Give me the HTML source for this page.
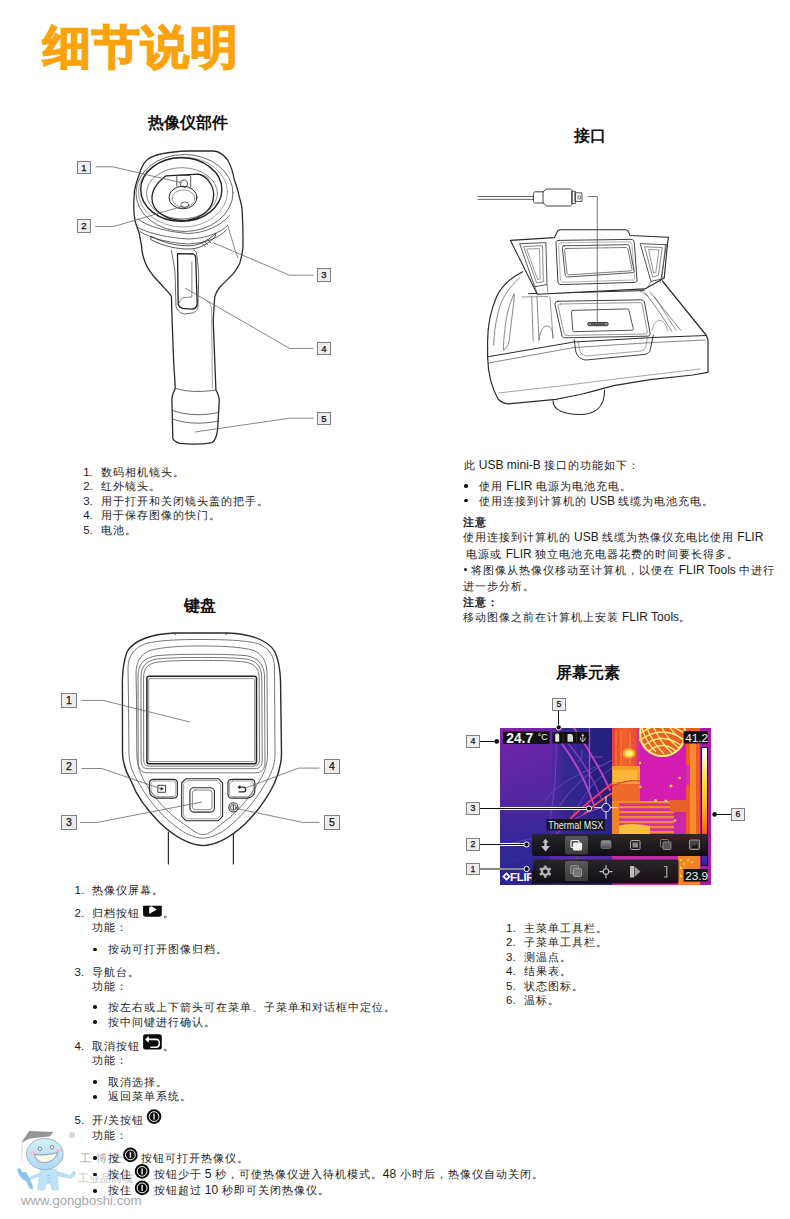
<!DOCTYPE html>
<html><head><meta charset="utf-8">
<style>
html,body{margin:0;padding:0;background:#fff;}
body{width:790px;height:1219px;position:relative;overflow:hidden;font-family:"Liberation Sans",sans-serif;color:#1c1c1c;}
.t{position:absolute;white-space:nowrap;line-height:12px;font-size:11px;letter-spacing:1px;}
.l{font-size:12px;letter-spacing:0;}
.n{font-size:11.5px;letter-spacing:0;}
.h{position:absolute;white-space:nowrap;line-height:16px;font-weight:bold;font-size:16px;color:#111;}
.b{font-weight:bold;}
.dot{position:absolute;width:3.6px;height:3.6px;border-radius:50%;background:#111;}
svg{position:absolute;left:0;top:0;overflow:visible;}
.lb{position:absolute;box-sizing:border-box;border:1px solid #808080;background:#ededed;font-size:10px;text-align:center;color:#111;-webkit-text-stroke:0.25px #111;font-family:"Liberation Sans",sans-serif;}
</style></head><body>
<svg width="790" height="1219" viewBox="0 0 790 1219" style="left:0;top:0">
<defs>
<linearGradient id="wmb" x1="0" y1="0" x2="0" y2="1"><stop offset="0" stop-color="#d2ecf9"/><stop offset="1" stop-color="#a6d6f0"/></linearGradient>
</defs>
<g opacity="0.9">
<!-- body -->
<path d="M40.4 1169 L56.6 1169 L58.6 1189.8 L52 1190 L50.5 1184 L46 1184 L44.5 1190 L37.3 1189.8 Z" fill="#b6def4" stroke="#a8cfe6" stroke-width="0.5"/>
<path d="M41 1172 L30 1177 L29 1180 L42 1176 Z" fill="#b0dcf4"/>
<path d="M56 1171 L70 1175 L74 1170.5 L76 1173 L72 1179 L56 1176 Z" fill="#b0dcf4"/>
<path d="M17 1169 L20 1168 L22 1172 L26 1172 L29 1177 L33 1186 L32.5 1190 L29.5 1188 L26 1181 L22 1179 L18.5 1174 Z" fill="#7fbfe6"/>
<g fill="#8ab8d8"><rect x="47" y="1175" width="3" height="0.8"/><rect x="47" y="1178" width="3" height="0.8"/><rect x="47" y="1181" width="3" height="0.8"/></g>
<!-- head -->
<ellipse cx="44.8" cy="1154" rx="18.3" ry="15.6" fill="url(#wmb)" stroke="#8aa6ba" stroke-width="0.9"/>
<ellipse cx="33" cy="1152.6" rx="3" ry="1.6" fill="#f2b8cf"/>
<ellipse cx="59" cy="1150.4" rx="3" ry="1.6" fill="#f2b8cf"/>
<path d="M34.3 1154.4 C40 1155.5 50 1155 57.6 1152.3 C56 1158.5 50.5 1162.5 44.4 1162.5 C39 1162.5 35.5 1159 34.3 1154.4 Z" fill="#fbf8ec" stroke="#6a7a88" stroke-width="0.8"/>
<circle cx="39.9" cy="1148.8" r="1.7" fill="#fff" stroke="#555" stroke-width="0.8"/>
<circle cx="52" cy="1147.3" r="1.7" fill="#fff" stroke="#555" stroke-width="0.8"/>
<!-- cap -->
<path d="M29.2 1131.1 L53.5 1132.1 L49.5 1136.5 L30 1138.5 L21.1 1142.7 Z" fill="#8a8a8a"/>
<path d="M22.2 1143.2 L21.6 1162.5" stroke="#d8c8cc" stroke-width="0.7"/>
<circle cx="22.2" cy="1150" r="0.8" fill="#ccc"/>
</g>
<circle cx="71.9" cy="1135.2" r="2.6" fill="none" stroke="#b0b0b0" stroke-width="0.6"/><text x="70.4" y="1137.1" font-family="Liberation Sans" font-size="5" fill="#aaa">R</text>
<text x="79.5" y="1161.5" font-family="Liberation Serif" font-size="10.5" fill="#a8a8a8" letter-spacing="5">工博士</text>
<text x="78" y="1181.5" font-family="Liberation Sans" font-size="10.5" fill="#c4c4c4">工业品商城</text>
<text x="21" y="1205.2" font-family="Liberation Sans" font-size="13.4" fill="#a8a8a8" textLength="120.5" lengthAdjust="spacingAndGlyphs">www.gongboshi.com</text>
</svg>
<svg width="790" height="1219" viewBox="0 0 790 1219" style="left:0;top:0">
<defs>
<linearGradient id="tgL" x1="0" y1="0" x2="0.55" y2="1">
<stop offset="0" stop-color="#8a22a8"/><stop offset="0.12" stop-color="#6a24a6"/><stop offset="0.4" stop-color="#5226a2"/><stop offset="0.7" stop-color="#402aa0"/><stop offset="1" stop-color="#342a98"/>
</linearGradient>
<linearGradient id="tgM" x1="0" y1="0" x2="1" y2="0">
<stop offset="0" stop-color="#4a26a4" stop-opacity="0"/><stop offset="0.3" stop-color="#34288e"/><stop offset="1" stop-color="#28208a"/>
</linearGradient>
<linearGradient id="scale" x1="0" y1="0" x2="0" y2="1">
<stop offset="0" stop-color="#ffffff"/><stop offset="0.08" stop-color="#fffbd0"/><stop offset="0.3" stop-color="#ffe020"/><stop offset="0.5" stop-color="#ffb010"/><stop offset="0.7" stop-color="#ff6a10"/><stop offset="0.78" stop-color="#e03060"/><stop offset="0.85" stop-color="#a020a0"/><stop offset="0.93" stop-color="#4030a8"/><stop offset="1" stop-color="#2828a0"/>
</linearGradient>
<radialGradient id="fan" cx="0.5" cy="0.5" r="0.5">
<stop offset="0" stop-color="#f07a20"/><stop offset="0.75" stop-color="#f29a2a"/><stop offset="0.92" stop-color="#f8e060"/><stop offset="1" stop-color="#fff27a"/>
</radialGradient>
<linearGradient id="hotL" x1="0" y1="0" x2="1" y2="0">
<stop offset="0" stop-color="#e83a40"/><stop offset="0.5" stop-color="#f06426"/><stop offset="1" stop-color="#e84848"/>
</linearGradient>
<pattern id="sink" x="0" y="801" width="10" height="5" patternUnits="userSpaceOnUse">
<rect width="10" height="5" fill="#d4329e"/><rect width="10" height="2.2" fill="#f08a30"/>
</pattern>
<linearGradient id="blfade" x1="0" y1="0" x2="0" y2="1"><stop offset="0" stop-color="#2c2694" stop-opacity="0"/><stop offset="0.5" stop-color="#2c2694" stop-opacity="0.7"/><stop offset="1" stop-color="#2a2490" stop-opacity="0.9"/></linearGradient>
<clipPath id="tclip"><rect x="500" y="728" width="211" height="157"/></clipPath>
</defs>
<g clip-path="url(#tclip)">
<rect x="500" y="728" width="211" height="157" fill="url(#tgL)"/>
<!-- middle dark indigo zone -->
<path d="M552 728 L613 728 L613 885 L545 885 L546 830 L552 790 Z" fill="url(#tgM)"/>
<rect x="590" y="728" width="23" height="80" fill="#26207e"/>
<g fill="none" stroke-linecap="round">
<path d="M556 732 Q558 780 548 830" stroke="#7a50d0" stroke-width="0.7"/>
<path d="M562 744 Q582 770 594 805" stroke="#b844c8" stroke-width="2"/>
<path d="M567 742 Q588 766 602 800" stroke="#8c34c0" stroke-width="1.4"/>
<path d="M574 728 Q596 760 610 790" stroke="#c23cb8" stroke-width="2"/>
<path d="M589.5 728 L589.5 790" stroke="#c040c0" stroke-width="1.3"/>
<path d="M590 757 L602 757" stroke="#9a50d0" stroke-width="0.8"/>
<path d="M582 750 L582 758 L578 762" stroke="#8060d0" stroke-width="0.7"/>
<path d="M612 760 Q580 775 560 805" stroke="#7a58d0" stroke-width="0.8"/>
<path d="M612 768 Q585 785 566 830" stroke="#6a50c8" stroke-width="0.8"/>
<path d="M545 800 Q560 780 600 765" stroke="#7050c8" stroke-width="0.7"/>
<path d="M571 818 Q590 800 617 780" stroke="#ff3466" stroke-width="2"/>
<path d="M584 814 Q600 800 617 790" stroke="#ff4a50" stroke-width="1.6"/>
<path d="M555 835 Q575 815 600 808" stroke="#c040c0" stroke-width="1"/>
<path d="M500 865 Q525 857 548 850" stroke="#6848c0" stroke-width="0.8"/>
</g>
<!-- hot zone -->
<rect x="612" y="728" width="90" height="157" fill="#d42ca8"/>
<rect x="612" y="728" width="25" height="42" fill="url(#hotL)"/>
<g stroke="#f8902a" stroke-width="1"><path d="M616 730 L616 768 M621 730 L621 768 M630 732 L630 765"/></g>
<rect x="612" y="766" width="28" height="20" fill="#f49c28"/>
<rect x="613" y="770" width="24" height="12" fill="#fab634"/>
<rect x="612" y="784" width="34" height="18" fill="#ee6a2a"/>
<path d="M612 786 Q628 778 645 782" stroke="#c03060" stroke-width="1" fill="none"/>
<rect x="640" y="744" width="48" height="58" fill="#d41cb0"/>
<ellipse cx="629" cy="753.5" rx="6.5" ry="5" fill="#f0b030"/>
<ellipse cx="629" cy="753.5" rx="4" ry="3" fill="#fff070"/>
<rect x="616" y="801" width="58" height="33" fill="url(#sink)"/>
<path d="M618 826 Q630 822 650 826 L650 834 L618 834 Z" fill="#f8c040"/>
<rect x="612" y="801" width="7" height="34" fill="#f0842a"/>
<rect x="674" y="812" width="12" height="23" fill="#cc26a8"/>
<rect x="670" y="800" width="16" height="12" fill="#e86030"/>
<rect x="686" y="728" width="15" height="157" fill="#ee5c24"/>
<rect x="690" y="736" width="6" height="140" fill="#f58a2c"/>
<rect x="686" y="765" width="4" height="20" fill="#d030a8"/>
<rect x="700" y="728" width="11" height="157" fill="#a61ea8"/>
<!-- fan -->
<circle cx="662.5" cy="733.5" r="22.5" fill="#e8602a"/>
<circle cx="662.5" cy="733.5" r="22.5" fill="none" stroke="#f8f070" stroke-width="2.2"/>
<g fill="none" stroke="#f2f27a" stroke-width="1.3">
<path d="M641 733 Q662 718 684 733"/><path d="M642 739 Q662 725 683 739"/><path d="M644.5 745 Q662 732 680.5 745"/><path d="M649 751 Q662 740 676 751"/>
<path d="M646 726 Q652 742 664 754"/><path d="M653 726 Q660 742 672 753"/><path d="M661 726 Q668 740 679 748"/><path d="M669 726 Q675 736 684 740"/><path d="M642 728 Q646 742 656 752"/>
</g>
<!-- hot spots -->
<g fill="#ffd448">
<circle cx="640" cy="740" r="1.3"/><circle cx="640" cy="763" r="1.3"/><circle cx="671" cy="786" r="1.5"/><circle cx="679.5" cy="778" r="1.3"/><circle cx="655.5" cy="800.5" r="1.5"/><circle cx="666" cy="801" r="1.5"/><circle cx="640.5" cy="787" r="1.2"/><circle cx="675" cy="820.5" r="1.3"/>
</g>
<!-- right side beneath toolbars -->
<rect x="678" y="856" width="22" height="29" fill="#f08426"/>
<g fill="#ffd040"><circle cx="681" cy="860" r="1.2"/><circle cx="684" cy="864" r="1.2"/><circle cx="681" cy="868" r="1.2"/><circle cx="684" cy="872" r="1.2"/><circle cx="681" cy="876" r="1.2"/><circle cx="684" cy="880" r="1.2"/><circle cx="688" cy="860" r="1.2"/><circle cx="692" cy="862" r="1.2"/></g>
<rect x="612" y="856" width="66" height="4" fill="#c02ca8"/>
<rect x="540" y="856" width="72" height="4" fill="#5a2aa8"/>
<!-- bottom-left dark indigo -->
<rect x="500" y="800" width="50" height="85" fill="url(#blfade)"/>
<path d="M500 845 Q520 842 545 835" stroke="#6a50c8" stroke-width="0.7" fill="none"/>
</g>
</svg>
<svg width="790" height="1219" viewBox="0 0 790 1219" style="left:0;top:0">
<defs>
<linearGradient id="tb" x1="0" y1="0" x2="0" y2="1"><stop offset="0" stop-color="#262626"/><stop offset="1" stop-color="#0e0e0e"/></linearGradient>
<linearGradient id="sel" x1="0" y1="0" x2="0" y2="1"><stop offset="0" stop-color="#5a5a5a"/><stop offset="1" stop-color="#3a3a3a"/></linearGradient>
<linearGradient id="gbtn" x1="0" y1="0" x2="0" y2="1"><stop offset="0" stop-color="#9a9a9a"/><stop offset="1" stop-color="#4a4a4a"/></linearGradient>
</defs>
<!-- scale bar -->
<rect x="701" y="747" width="7" height="119" fill="#1a0a20"/>
<rect x="702" y="748" width="5" height="117" fill="url(#scale)"/>
<!-- toolbars -->
<rect x="532" y="834" width="176" height="22" rx="2" fill="url(#tb)" opacity="0.96"/>
<rect x="533" y="859.5" width="145.5" height="24" rx="2" fill="url(#tb)" opacity="0.96"/>
<rect x="565" y="836" width="23" height="18.5" rx="2" fill="url(#sel)"/>
<rect x="565" y="861" width="23" height="20" rx="2" fill="url(#sel)"/>
<path d="M574 859 L577 856 L580 859 Z" fill="#555"/>
<!-- upper toolbar icons -->
<g fill="#c4c4c4">
<path d="M545.5 838.8 L548.6 842.6 L546.7 842.6 L546.7 846 L549.8 846 L545.5 851.6 L541.2 846 L544.3 846 L544.3 842.6 L542.4 842.6 Z"/>
</g>
<g fill="none" stroke="#f2f2f2" stroke-width="1.2">
<rect x="571" y="840.5" width="8" height="7" rx="1"/>
<rect x="573.5" y="843" width="8" height="7" rx="1" fill="#f2f2f2"/>
</g>
<rect x="601" y="840.5" width="10" height="8" rx="1.5" fill="url(#gbtn)" stroke="#777" stroke-width="0.8"/>
<rect x="630.5" y="840.5" width="9.5" height="9" rx="1" fill="none" stroke="#aaa" stroke-width="1"/>
<rect x="632.5" y="842.5" width="5.5" height="5" fill="#888"/>
<rect x="660.5" y="839.5" width="8" height="7.5" rx="1" fill="none" stroke="#777" stroke-width="1"/>
<rect x="663" y="842" width="8" height="7.5" rx="1" fill="#555" stroke="#888" stroke-width="1"/>
<rect x="689.5" y="840" width="10" height="9.5" rx="1" fill="#444" stroke="#999" stroke-width="1"/>
<path d="M691.5 848 L693.5 844.5 L695 846.5 L696.5 843.5 L698 848 Z" fill="#111"/>
<!-- lower toolbar icons -->
<g transform="translate(545.3 871.6)" fill="#b0b0b0">
<circle r="4.6"/>
<g>
<rect x="-1.4" y="-6.2" width="2.8" height="12.4" rx="0.6"/>
<rect x="-1.4" y="-6.2" width="2.8" height="12.4" rx="0.6" transform="rotate(60)"/>
<rect x="-1.4" y="-6.2" width="2.8" height="12.4" rx="0.6" transform="rotate(120)"/>
</g>
<circle r="2.2" fill="#161616"/>
</g>
<rect x="570.5" y="865.5" width="8" height="8" rx="1" fill="#6a6a6a" stroke="#999" stroke-width="0.8"/>
<rect x="573.5" y="868.5" width="8" height="8" rx="1" fill="#777" stroke="#aaa" stroke-width="0.8"/>
<g stroke="#c0c0c0" stroke-width="1.1" fill="none">
<circle cx="606" cy="871.6" r="2.8"/>
<path d="M599.5 871.6 L603.2 871.6 M608.8 871.6 L612.5 871.6 M606 865 L606 868.8 M606 874.4 L606 878.2"/>
</g>
<path d="M630 866 L634 866 L634 877.5 L630 877.5 Z" fill="#bbb"/>
<path d="M634.5 866.5 L640.5 871.6 L634.5 877 Z" fill="#999"/>
<path d="M663.8 866.5 L666.8 866.5 L666.8 877 L663.8 877" fill="none" stroke="#aaa" stroke-width="1.2"/>
<!-- FLIR logo -->
<g fill="#fff">
<path d="M506.5 872.3 L510.7 876.5 L506.5 880.7 L502.3 876.5 Z M506.5 874.7 L504.7 876.5 L506.5 878.3 L508.3 876.5 Z" fill-rule="evenodd"/>
</g>
<text x="510" y="881.3" font-family="Liberation Sans" font-weight="bold" font-size="11.5" fill="#fff" letter-spacing="-0.3">FLIR</text>
<rect x="531.5" y="870" width="3" height="14" fill="#141414"/>
<!-- boxes -->
<rect x="503" y="731.5" width="46.5" height="12.5" fill="#111"/>
<text x="506.2" y="743" font-family="Liberation Sans" font-weight="bold" font-size="14.4" fill="#f4f4f4" textLength="27" lengthAdjust="spacingAndGlyphs">24.7</text>
<text x="537.8" y="740.3" font-family="Liberation Sans" font-size="9.6" fill="#f4f4f4" textLength="10" lengthAdjust="spacingAndGlyphs">°C</text>
<rect x="552.5" y="732" width="36" height="11.5" fill="#111"/>
<rect x="555.2" y="734.2" width="4" height="7.5" fill="#e8e8e8"/><rect x="556.2" y="733.4" width="2" height="1" fill="#e8e8e8"/>
<path d="M567.5 734 L571.5 734 L573 735.5 L573 741.7 L567.5 741.7 Z" fill="#d8d8d8"/>
<line x1="563" y1="733" x2="563" y2="742.5" stroke="#444" stroke-width="0.6"/>
<line x1="576.5" y1="733" x2="576.5" y2="742.5" stroke="#444" stroke-width="0.6"/>
<g stroke="#d8d8d8" stroke-width="0.9" fill="none"><path d="M582.8 733.5 L582.8 742 M580.3 737.5 Q580.5 741 582.8 741.5 Q585.1 741 585.3 737.5 M581.5 735.5 L584.1 735.5"/></g>
<rect x="683.5" y="731.2" width="24.2" height="12.3" fill="#111"/>
<text x="685.2" y="742.3" font-family="Liberation Sans" font-size="11.8" fill="#f0f0f0">41.2</text>
<rect x="683.5" y="869" width="24.2" height="12.6" fill="#111"/>
<text x="685.2" y="880.4" font-family="Liberation Sans" font-size="11.8" fill="#f0f0f0">23.9</text>
<rect x="546.6" y="819" width="58.2" height="11.4" fill="#141414" opacity="0.92"/>
<text x="548.3" y="828.6" font-family="Liberation Sans" font-size="10.6" fill="#eee" textLength="55" lengthAdjust="spacingAndGlyphs">Thermal MSX</text>
<!-- crosshair -->
<g stroke="#ececec" stroke-width="1" fill="none">
<circle cx="606" cy="807.6" r="4.2"/>
<path d="M594 807.6 L601.8 807.6 M610.2 807.6 L618 807.6 M606 796 L606 803.4 M606 811.8 L606 819"/>
</g>
<!-- leader lines -->
<g>
<line x1="479.5" y1="741.5" x2="496.5" y2="741.5" stroke="#111" stroke-width="1"/>
<circle cx="496.8" cy="741.4" r="2.3" fill="#111"/>
<line x1="558.5" y1="710" x2="558.5" y2="727" stroke="#111" stroke-width="1"/>
<circle cx="558.7" cy="727.4" r="2.6" fill="#111" stroke="#fff" stroke-width="1"/>
<line x1="731" y1="814.5" x2="714.6" y2="814.5" stroke="#111" stroke-width="1"/>
<circle cx="714.6" cy="814.4" r="2.3" fill="#111"/>
<line x1="500" y1="808.5" x2="589" y2="808.5" stroke="#fff" stroke-width="3"/>
<line x1="479.5" y1="808.5" x2="589" y2="808.5" stroke="#111" stroke-width="1"/>
<circle cx="589" cy="808.5" r="2.6" fill="#111" stroke="#fff" stroke-width="1"/>
<line x1="500" y1="844.5" x2="526.6" y2="844.5" stroke="#fff" stroke-width="3"/>
<line x1="479.5" y1="844.5" x2="526.6" y2="844.5" stroke="#111" stroke-width="1"/>
<circle cx="526.6" cy="844.5" r="2.6" fill="#111" stroke="#fff" stroke-width="1"/>
<line x1="479.5" y1="869" x2="526.6" y2="869" stroke="#8a8a8a" stroke-width="2"/>
<circle cx="526.6" cy="869" r="2.6" fill="#111" stroke="#fff" stroke-width="1"/>
</g>
</svg>
<svg width="790" height="1219" viewBox="0 0 790 1219" style="left:0;top:0">
<g fill="none" stroke="#2a2a2a" stroke-linejoin="round" stroke-linecap="round">
<!-- neck -->
<path d="M168.4 832 L168.4 864 M233.4 832 L233.4 864" stroke-width="1.2"/>
<!-- outer body -->
<path d="M174.2 633 L226.9 633 C252 634 268 640 275 652 C279 661 280 668 280.5 680 L281.5 754 C281.3 765 279 773 274.5 783 C268 797 258 811 245 824 C230 838 215 845 203.2 845.6 C191 845 176 838 160 823 C148 811 137 797 131 781 C126 772 123 764 122.5 754 L122.4 680 C122.7 668 124 660 127 652 C133 641 150 634 174.2 633 Z" fill="#fff" stroke-width="1.4"/>
<path d="M174.2 633.2 L175.2 634.6 M226.9 633.2 L225.9 634.6" stroke-width="1"/>
<!-- inner lines -->
<path d="M128.5 699 L128 668 C128 656 134 648 146 643.5 C160 640 180 639.5 201 639.5 C222 639.5 244 640 258 643.5 C269 648 274.5 656 274.5 668 L275 754 C275 766 271 774 265 784 C254 803 240 818 226 829 C216 836 209 838 203.2 838.2 C197 838 189 836 179 829 C164 818 150 803 140 785 C133 774 129.5 766 129 754 Z" stroke-width="0.8" stroke="#555"/>
<path d="M136.5 699 L136 674 C136 662 140 655 150 650.5 C165 646.5 183 646 201 646 C220 646 240 646.5 254 650.5 C263 655 267 662 267 674 L267.5 754 C267.5 766 264 774 258 783 C248 800 236 813 224 822 C215 829 209 834.5 203.2 834.7 C197 834.5 191 829 181 822 C168 813 156 800 146 784 C140 774 137 766 136.8 754 Z" stroke-width="0.8" stroke="#555"/>
<!-- screen bezels -->
<path d="M138 700 L138 676 C138 664 144 658 156 655.8 C170 654.4 186 654.3 201.5 654.3 C218 654.3 234 654.4 247 655.8 C258 658 264 664 264.5 676 L265 762 C265 769 262 772.5 256 772.8 L147 772.8 C141 772.5 138.3 769 138.2 762 Z" stroke-width="0.8" stroke="#555"/>
<path d="M141 700 L141 677 C141 666 146 661 157 659 C170 657.6 186 657.5 201.5 657.5 C218 657.5 233 657.6 246 659 C256 661 261.5 666 261.8 677 L262.2 761 C262 766 259.5 768.5 255 768.7 L148 768.7 C143 768.5 141.2 766 141.1 761 Z" stroke-width="0.8" stroke="#555"/>
<path d="M143.6 700 L143.6 678 C143.6 668 148 663.5 158 662 C171 660.5 186 660.4 201.5 660.4 C218 660.4 232 660.5 245 662 C254 663.5 259 668 259.2 678 L259.5 760 C259.3 764 257.5 766 254 766.2 L149 766.2 C145.5 766 143.8 764 143.7 760 Z" stroke-width="0.8" stroke="#555"/>
<!-- screen -->
<rect x="146.9" y="676.3" width="109.6" height="87.5" rx="2.2" stroke-width="1.5" stroke="#222"/>
<rect x="148.7" y="678.6" width="106" height="83" rx="1.2" stroke-width="0.7" stroke="#666"/>
<!-- buttons -->
<path d="M153.5 779.4 L173.5 779.4 C176 779.4 177.4 780.8 177.4 783.4 L177.4 794.2 C177.4 796.8 176 798.1 173.5 798.1 L157 798.1 C153 798.1 149.4 794.5 149.4 790.5 L149.4 783.4 C149.4 780.8 151 779.4 153.5 779.4 Z" stroke-width="1.1"/>
<path d="M154.5 781 L172.8 781 C174.8 781 175.8 782 175.8 784 L175.8 793.8 C175.8 795.8 174.8 796.6 172.8 796.6 L158 796.6 C154.5 796.6 151 793.5 151 790 L151 784 C151 782 152.5 781 154.5 781 Z" stroke-width="0.6" stroke="#666"/>
<rect x="158.2" y="785.3" width="7.4" height="7" stroke-width="0.9"/>
<path d="M160.6 786.9 L163.8 788.8 L160.6 790.7 Z" fill="#222" stroke="none"/>
<path d="M232 779.4 L251 779.4 C253.5 779.4 254.9 780.8 254.9 783.4 L254.9 790.5 C254.9 794.5 251.3 798.1 247.3 798.1 L232 798.1 C229.5 798.1 228 796.8 228 794.2 L228 783.4 C228 780.8 229.5 779.4 232 779.4 Z" stroke-width="1.1"/>
<path d="M232.6 781 L250.5 781 C252.5 781 253.3 782 253.3 784 L253.3 790 C253.3 793.5 250 796.6 246.5 796.6 L232.6 796.6 C230.6 796.6 229.6 795.8 229.6 793.8 L229.6 784 C229.6 782 230.6 781 232.6 781 Z" stroke-width="0.6" stroke="#666"/>
<path d="M238.6 787.2 L243.5 787.2 C246.5 787.2 246.5 791.8 243.5 791.8 L239 791.8" stroke-width="1.3"/>
<path d="M237.6 787.2 L240.3 784.9 L240.3 789.5 Z" fill="#222" stroke="none"/>
<!-- nav -->
<path d="M186 778.7 L218.3 778.7 L222.6 783 L222.6 816.4 L218.3 820.7 L186 820.7 L181.7 816.4 L181.7 783 Z" stroke-width="1.1"/>
<path d="M187.2 780.6 L217.1 780.6 L220.7 784.2 L220.7 815.2 L217.1 818.8 L187.2 818.8 L183.6 815.2 L183.6 784.2 Z" stroke-width="0.6" stroke="#666"/>
<rect x="189.9" y="787.8" width="24.5" height="24.3" rx="4" stroke-width="1.1"/>
<rect x="192.4" y="790.1" width="19.6" height="19.6" rx="3" stroke-width="0.7" stroke="#555"/>
<!-- power -->
<circle cx="233.4" cy="807.4" r="4.6" stroke-width="1.1"/>
<circle cx="233.4" cy="807.4" r="2.9" stroke-width="0.8"/>
<path d="M233.4 805.4 L233.4 809.4" stroke-width="1"/>
</g>
<!-- leader lines -->
<g fill="none" stroke="#666" stroke-width="0.8">
<path d="M81.5 700.4 L103 700.4 L190 722"/>
<path d="M81.5 768.5 L101.8 768.5 L161 788.8"/>
<path d="M80.2 822.5 L96.9 822.5 L202 802"/>
<path d="M319.4 768.1 L298.5 768.1 L246.5 787.6"/>
<path d="M319.4 822.4 L302.7 822.4 L236 808.5"/>
</g>
</svg>
<svg width="790" height="1219" viewBox="0 0 790 1219" style="left:0;top:0">
<g fill="none" stroke="#2a2a2a" stroke-linejoin="round" stroke-linecap="round">
<!-- outer silhouette -->
<path d="M147.5 159.5 C154 154.5 170 151.6 188.3 151 L213.6 151 C218 151.4 224 155 227.8 160.2 C231 166 233 172 234.2 179.4 C236.5 186 238 190 238.9 195.2 C241 203 242 207 242.1 209.5 C243 225 243.2 236 242.9 247.5 C242 256 241 259 239.7 263.3 C237 269 235 272 232.6 274.4 C227 280 223 284 219.9 287 C216.5 291 215.5 294 214.7 297 L213.2 320 L214.1 343.4 L215.9 390 C218 394 219.3 397 219.3 400.3 L217.6 429.7 C216.5 438 214.5 441 212.4 442.6 C202 444.5 190 444.5 179.7 443.4 C175 441.5 173 440 172.8 438.3 L171.9 398.6 C172.5 394 174 391 175.3 388.3 L173.6 360.7 L172.1 320 L171.4 296.2 C168 291.5 166 290 160 283.3 C152 275 147.5 269 145 262 C142 254 141.6 250 141.6 246 C140 238 139.2 233.2 139.2 233.2 C137 227 135.3 222 135.3 222.1 C133.8 214 133.7 210 133.7 206.3 C133.8 198 134.5 193 134.5 190.5 C136 183 137.5 179 139.2 174.6 C141 168 143.5 163 147.5 159.5 Z" fill="#fff" stroke-width="1.3"/>
<!-- rings -->
<ellipse cx="184.5" cy="193" rx="48.5" ry="38.5" stroke-width="0.8" stroke="#444"/>
<ellipse cx="183" cy="192" rx="44.5" ry="35" stroke-width="0.6" stroke="#666"/>
<ellipse cx="181.3" cy="189.6" rx="40.6" ry="31.8" stroke-width="1.4" stroke="#222"/>
<ellipse cx="182" cy="193.3" rx="35.5" ry="25.6" stroke-width="0.7" stroke="#555"/>
<!-- lens window -->
<path d="M166 175.8 L198.5 174.2 C210 178 214 188 213.6 196 C213 208 204 218 186 220.4 C170 221 156 214 152.5 203 C150.5 194 155 184 166 175.8 Z" stroke-width="1.3" stroke="#222"/>
<path d="M198.5 174.2 C204 175 208 177 209 179" stroke-width="0.6"/>
<!-- keyhole + lenses -->
<path d="M176.8 186 L176.8 176.5 C176.8 175.8 177.3 175.4 178 175.4 L189.5 175.4 C190.2 175.4 190.7 175.8 190.7 176.5 L190.7 187.5" stroke-width="0.8"/>
<circle cx="183.8" cy="183.6" r="3.7" stroke-width="0.8"/>
<ellipse cx="183" cy="197.5" rx="14" ry="11.3" stroke-width="1"/>
<ellipse cx="183.5" cy="198.5" rx="11.3" ry="8.6" stroke-width="0.6" stroke="#555"/>
<ellipse cx="184.7" cy="204.8" rx="4" ry="2.8" stroke-width="0.7"/>
<!-- lower barrel arcs -->
<path d="M137.7 219 C150 228 170 232 188.3 233.5 C205 233 220 226 229.4 215.8" stroke-width="0.8" stroke="#444"/>
<path d="M138.4 227.7 C150 234 170 238 188.3 239 C206 238.5 220 233 227.8 225.3" stroke-width="0.8" stroke="#444"/>
<path d="M140 231.6 C152 239 170 243 188.3 244 C206 243 219 238 226.3 230.1" stroke-width="0.8" stroke="#444"/>
<!-- slot -->
<path d="M151.1 236.4 C165 243.5 178 246 190 245.8 C200 245 208 241 216 233.2 L215 237 C208 244 200 248.5 190 249 C178 249.3 164 246.5 151.2 239.8 Z" stroke-width="0.8"/>
<path d="M201 242.5 L205 246.5 M204 241 L208 245 M207 239 L211 243" stroke-width="0.7"/>
<!-- right side panel line -->
<path d="M227.8 225.3 C230 233 232 240 234.2 247.5 L238 258" stroke-width="0.7" stroke="#555"/>
<!-- trigger -->
<path d="M171.4 250.6 C173.5 262 175.2 270 175.2 278 L176 306.8 C178 311.5 181 313.8 185 314 L193.4 312.9 C196 311.5 197.8 309.5 198 306.8 L198.7 278 C198.5 268 197.5 259 196.4 252.9 C195.5 251 194.5 250.3 193.4 249.9" stroke-width="0.8" stroke="#444"/>
<path d="M177.5 253.7 L193.4 254 C194.7 254.5 195.5 255.5 195.7 257.5 L197.2 304.5 C196.5 307.5 194.5 309 191.9 309.1 L182.8 308.3 C180 307.5 178.5 306 178.2 303.8 Z" stroke-width="1.3" stroke="#222"/>
<path d="M191.9 262 L191.9 297 L184 297.5 C181 298.5 179.5 300.5 179.7 303" stroke-width="0.7" stroke="#555"/>
<!-- grip inner lines -->
<path d="M207 300.7 C210 303 211.5 306 211.6 310 L212.4 388" stroke-width="0.6" stroke="#666"/>
<!-- battery bands -->
<path d="M175.3 388.3 C188 392.5 203 392 215.9 390" stroke-width="0.8" stroke="#444"/>
<path d="M172.3 410.5 C188 416 205 415.5 218.8 412.5" stroke-width="0.8" stroke="#444"/>
<path d="M172.4 419 C188 424.5 205 424 218.5 421" stroke-width="0.8" stroke="#444"/>
</g>
<!-- leader lines -->
<g fill="none" stroke="#666" stroke-width="0.8">
<path d="M95.7 166.8 L112.5 166.8 L182.5 183"/>
<path d="M95.2 226.6 L113.4 226.6 L183.5 206"/>
<path d="M313.4 275.2 L289.5 275.2 L212.4 242.4"/>
<path d="M313.4 348.4 L289.5 348.4 L185 288"/>
<path d="M313.4 418.2 L289.5 418.2 L195 432"/>
</g>
</svg>
<svg width="790" height="1219" viewBox="0 0 790 1219" style="left:0;top:0">
<g fill="none" stroke="#2a2a2a" stroke-linejoin="round" stroke-linecap="round">
<!-- cable -->
<path d="M478 196.5 L533.4 196.5 M478 199.4 L533.4 199.4" stroke-width="0.8" stroke="#444"/>
<path d="M543.3 191.8 L535.5 191.8 C534 191.8 533.4 192.8 533.4 194.3 L533.4 200.8 C533.4 202.3 534 203 535.5 203 L543.3 203" stroke-width="0.9"/>
<path d="M543.3 191.8 L546 189.3 C546.5 189 547 189 547.5 189 L569.6 189 C571.2 189 572.1 190 572.1 191.6 L572.1 203.4 C572.1 205 571.2 206 569.6 206 L547.5 206 C547 206 546.5 205.8 546 205.5 L543.3 203 Z" stroke-width="0.9"/>
<rect x="572.1" y="191.2" width="3.3" height="12.3" stroke-width="0.8"/>
<rect x="575.4" y="192.8" width="6.6" height="8.6" stroke-width="0.8"/>
<rect x="578.3" y="196" width="2.3" height="2.9" stroke-width="0.6"/>
<!-- body -->
<path d="M522.6 271.7 C510 278 501 287 496.5 297 C490 312 487.6 328 487.6 341.6 L487.6 356.8 C488 372 491 387 498.2 399.3 C501 402 504 403.5 508 403.8 L556 399.3 L580.3 394.7 L613.7 385.6 L650.2 379.6 L692.8 375 L708 372.3 L708 340 L706.4 335.5 L662.4 281" fill="#fff" stroke-width="1.2"/>
<!-- foot -->
<path d="M553 400.8 C553 410 564 414.5 579 414.5 C594 414.5 604.6 409 604.6 390" fill="#fff" stroke-width="1.1"/>
<!-- front face lines -->
<path d="M487.6 356.8 L574 342 L653 337.5 L706.4 335.5" stroke-width="1"/>
<path d="M489.1 362.9 L574 347.5 L653 342.5 L705 340" stroke-width="0.7" stroke="#555"/>
<path d="M498.5 393 L560 386 L620 378.5 L700 369" stroke-width="0.6" stroke="#666"/>
<!-- left side panel lines -->
<path d="M519.5 278 C508 288 501 300 498.2 312 C495 325 494 335 493.7 345" stroke-width="0.7" stroke="#555"/>
<path d="M514 294 C509 305 506 317 505 328.6 C504 337 503.5 343 503.3 350 C506 349 508 346 509 342 L514 300 C514.5 296.5 514.5 295 514 294 Z" stroke-width="0.7" stroke="#555"/>
<!-- cavity -->
<path d="M528.6 293.7 L644.1 290.6" stroke-width="1"/>
<path d="M531.7 296.7 L533.2 340.8 M537 297 L539 340" stroke-width="0.7" stroke="#555"/>
<path d="M539 340 C540 330 544 325 548 326 C552 327 553 333 553 338" stroke-width="0.7" stroke="#555"/>
<path d="M558 301.3 L640.5 299.8 C643 299.8 644.3 301 644.6 303 L650.2 333.5 C650.4 335.5 649 336.2 647 336.2 L565 337.8 C563 337.8 562 336.8 561.8 335 L555 304.5 C554.8 302.5 556 301.3 558 301.3 Z" stroke-width="0.9"/>
<path d="M573 310.4 L627 308.9 C628 308.9 628.7 309.3 628.9 310.2 L633.3 328.8 C633.5 329.7 633 330.2 632 330.2 L574.5 331.7 C573.5 331.7 572.9 331.2 572.8 330.3 L571.4 311.8 C571.3 310.9 572 310.4 573 310.4 Z" stroke-width="0.8"/>
<path d="M589 322.5 L606.8 322.5 C608.5 322.5 608.8 325.7 606.8 325.7 L589 325.7 C587 325.7 587.3 322.5 589 322.5 Z" fill="#888" stroke-width="0.9"/>
<path d="M591 323.6 L604.8 323.6 L604.8 324.6 L591 324.6 Z" fill="#333" stroke="none"/>
<!-- right side inner -->
<path d="M650.2 292.2 L666 312 L680.6 330.2 M645 292.5 L660 313 L672 331.5" stroke-width="0.7" stroke="#555"/>
<path d="M652 330 C654 322 658 319 662 321 C665 323 667 327 668 331" stroke-width="0.6" stroke="#666"/>
<!-- flap -->
<path d="M574.2 339.8 L575.5 350 C576.5 356 580 359.5 586 360 L644 354.5 C648 354 650 352 650.2 349.9 L653.3 335" stroke-width="0.9"/>
<path d="M578.5 341.5 L579.3 349 C580 353 582.5 355.5 587 356 L641 351 C644 350.5 645.5 349 645.8 347 L647.5 337" stroke-width="0.6" stroke="#666"/>
<!-- lid -->
<path d="M510.4 240.4 L554.5 237.6 L557.7 230.8 C558.5 230 559.5 229.8 561 229.8 L625.5 229.7 C627.5 229.7 629 231 629.8 235.5 L668.5 237.2 L667.5 243.7 L664.2 278.1 L644.9 288.9 L537.3 294.2 Z" fill="#fff" stroke-width="1.1"/>
<path d="M520.1 243.7 L545.9 242.6 L547 284.6 L535.1 286.7 Z" stroke-width="0.8"/>
<path d="M524 246.5 L542.5 245.7 L543.3 281.7 L537 282.8 Z" stroke-width="0.7" stroke="#555"/>
<path d="M640.6 243.7 L666.4 244.7 L661 279.2 L651.3 281.3 Z" stroke-width="0.8"/>
<path d="M645 246.8 L662.3 247.5 L658.3 275.5 L653 276.7 Z" stroke-width="0.7" stroke="#555"/>
<path d="M559 240.4 L631 239.4 C633 239.4 634 240.5 634.3 242.5 L637 280 C637 281.5 636 282.4 634.5 282.4 L561 284.6 C559 284.6 558 283.5 557.9 281.5 L556 243 C556 241 557 240.4 559 240.4 Z" stroke-width="0.9"/>
<path d="M564 245.8 L627 244.7 C628.5 244.7 629.2 245.5 629.5 247 L634 270.5 C634.3 272 633.5 272.7 632 272.7 L567.5 277 C566 277 565.3 276.2 565.2 275 L562.3 247.5 C562.2 246.5 563 245.8 564 245.8 Z" stroke-width="0.8"/>

<!-- extra lid details -->
<path d="M566 248.5 L625.5 247.5 C627 247.5 627.7 248.2 628 249.7 L632 269 C632.2 270.3 631.5 270.8 630.2 270.9 L569 274.8 C567.8 274.9 567.2 274.3 567.1 273.2 L564.5 250.3 C564.4 249.2 565 248.5 566 248.5 Z" fill="none" stroke="#444" stroke-width="0.7"/>
<path d="M561.5 242.8 L629 241.8 C630.8 241.8 631.6 242.7 631.9 244.5 L634.6 278 C634.7 279.3 634 280 632.6 280 L563 282.2 C561.5 282.2 560.6 281.4 560.5 279.8 L558.6 245 C558.5 243.6 559.8 242.8 561.5 242.8 Z" fill="none" stroke="#666" stroke-width="0.5"/>
<path d="M527 249 L539.5 248.6 L540.2 279 L538 279.4 Z" fill="none" stroke="#555" stroke-width="0.6"/>
<path d="M649 249.5 L659 250 L655.8 272.5 L654 273 Z" fill="none" stroke="#555" stroke-width="0.6"/>
<path d="M535.1 286.7 L537.3 294.2 M547 284.6 L548 292" fill="none" stroke="#444" stroke-width="0.6"/>
<path d="M651.3 281.3 L647 288 M661 279.2 L660 283" fill="none" stroke="#444" stroke-width="0.6"/>
<path d="M667.5 243.7 L665.5 244.5 L662 278 L664.2 278.1" fill="none" stroke="#444" stroke-width="0.6"/>
<!-- extra cavity details -->
<path d="M560.5 304 L639 302.6 C641 302.6 642 303.5 642.3 305 L647.3 332 C647.5 333.3 646.7 334 645.3 334 L566.5 335.4 C565 335.4 564.3 334.6 564.1 333.3 L558 306.2 C557.8 304.9 558.8 304 560.5 304 Z" fill="none" stroke="#555" stroke-width="0.6"/>
<path d="M522 297 L548 296.5 M550 297 L553 338" fill="none" stroke="#555" stroke-width="0.6"/>
<path d="M655 297 L676 330.5 M640 291 L648 296" fill="none" stroke="#555" stroke-width="0.6"/>
</g>
<!-- leader -->
<path d="M587.7 196.5 L597.3 196.5 L597.3 324" fill="none" stroke="#555" stroke-width="0.8"/>
</svg>
<svg width="790" height="1219" viewBox="0 0 790 1219" style="left:0;top:0">
<defs>
<g id="pw">
<circle r="7.3" fill="#0a0a0a"/>
<circle r="4.9" fill="none" stroke="#fff" stroke-width="1"/>
<rect x="-0.75" y="-3" width="1.5" height="6" fill="#ddd"/>
</g>
</defs>
<use href="#pw" x="154.05" y="1116.6"/>
<use href="#pw" x="130.4" y="1154.9"/>
<use href="#pw" x="142.1" y="1171.4"/>
<use href="#pw" x="142.1" y="1187.9"/>
<!-- archive -->
<path d="M143.1 905.8 L161.8 905.8 L161.8 914.3 C161.8 915.8 160.8 916.7 159.3 916.7 L145.6 916.7 C144.1 916.7 143.1 915.8 143.1 914.3 Z" fill="#0a0a0a"/>
<path d="M149.2 907.2 L151.5 906.3 L156.8 909.4 L149.2 913.9 Z" fill="#fff"/>
<!-- cancel -->
<rect x="143.1" y="1034.3" width="18.7" height="15.2" rx="2.2" fill="#0a0a0a"/>
<path d="M148 1039.4 L156 1039.4 C160.5 1039.4 160.5 1047.3 156 1047.3 L150.3 1047.3" fill="none" stroke="#fff" stroke-width="1.6"/>
<path d="M145 1039.4 L148.8 1036 L148.8 1042.8 Z" fill="#fff"/>
</svg>
<div class="lb" style="left:466px;top:735px;width:14px;height:13px;line-height:11px;font-size:8.8px;">4</div>
<div class="lb" style="left:466px;top:802px;width:14px;height:13px;line-height:11px;font-size:8.8px;">3</div>
<div class="lb" style="left:466px;top:838px;width:14px;height:13px;line-height:11px;font-size:8.8px;">2</div>
<div class="lb" style="left:466px;top:863px;width:14px;height:12px;line-height:10px;font-size:8.8px;">1</div>
<div class="lb" style="left:552px;top:698px;width:14px;height:13px;line-height:11px;font-size:8.8px;">5</div>
<div class="lb" style="left:731px;top:808px;width:14px;height:13px;line-height:11px;font-size:8.8px;">6</div>
<div class="lb" style="left:77px;top:161px;width:14px;height:13px;line-height:11px;font-size:9.5px;">1</div>
<div class="lb" style="left:77px;top:219px;width:14px;height:14px;line-height:12px;font-size:9.5px;">2</div>
<div class="lb" style="left:317px;top:268px;width:14px;height:14px;line-height:12px;font-size:9.5px;">3</div>
<div class="lb" style="left:317px;top:342px;width:14px;height:13px;line-height:11px;font-size:9.5px;">4</div>
<div class="lb" style="left:317px;top:412px;width:14px;height:13px;line-height:11px;font-size:9.5px;">5</div>
<div class="lb" style="left:61px;top:693px;width:16px;height:15px;line-height:13px;font-size:10.5px;">1</div>
<div class="lb" style="left:61px;top:759px;width:16px;height:15px;line-height:13px;font-size:10.5px;">2</div>
<div class="lb" style="left:61px;top:815px;width:16px;height:15px;line-height:13px;font-size:10.5px;">3</div>
<div class="lb" style="left:324px;top:759px;width:16px;height:15px;line-height:13px;font-size:10.5px;">4</div>
<div class="lb" style="left:324px;top:815px;width:16px;height:15px;line-height:13px;font-size:10.5px;">5</div>
<div class="t" style="left:42.6px;top:24.6px;font-size:45.6px;line-height:45.6px;transform:scaleX(1.045);transform-origin:0 0;font-weight:bold;color:#FBA30C;-webkit-text-stroke:1.6px #FBA30C;">细节说明</div>
<div class="h" style="left:147.6px;top:114.6px;">热像仪部件</div>
<div class="h" style="left:573.5px;top:127.8px;">接口</div>
<div class="h" style="left:184px;top:597.8px;">键盘</div>
<div class="h" style="left:556px;top:664.5px;">屏幕元素</div>
<div class="t" style="left:83.2px;top:465.8px;"><span class="n">1.</span></div>
<div class="t" style="left:101.4px;top:465.8px;">数码相机镜头。</div>
<div class="t" style="left:83.2px;top:480.3px;"><span class="n">2.</span></div>
<div class="t" style="left:101.4px;top:480.3px;">红外镜头。</div>
<div class="t" style="left:83.2px;top:494.8px;"><span class="n">3.</span></div>
<div class="t" style="left:101.4px;top:494.8px;">用于打开和关闭镜头盖的把手。</div>
<div class="t" style="left:83.2px;top:509.3px;"><span class="n">4.</span></div>
<div class="t" style="left:101.4px;top:509.3px;">用于保存图像的快门。</div>
<div class="t" style="left:83.2px;top:523.8px;"><span class="n">5.</span></div>
<div class="t" style="left:101.4px;top:523.8px;">电池。</div>
<div class="t" style="left:463.5px;top:458.5px;">此<span class="l"> USB mini-B </span>接口的功能如下：</div>
<div class="dot" style="left:464.10px;top:484.20px;width:3.6px;height:3.6px;"></div>
<div class="t" style="left:479.0px;top:480.1px;">使用<span class="l"> FLIR </span>电源为电池充电。</div>
<div class="dot" style="left:464.10px;top:498.60px;width:3.6px;height:3.6px;"></div>
<div class="t" style="left:479.0px;top:494.5px;">使用连接到计算机的<span class="l"> USB </span>线缆为电池充电。</div>
<div class="t b" style="left:463.09999999999997px;top:516.1999999999999px;">注意</div>
<div class="t" style="left:462.7px;top:531.4px;">使用连接到计算机的<span class="l"> USB </span>线缆为热像仪充电比使用<span class="l"> FLIR</span></div>
<div class="t" style="left:466.4px;top:547.6999999999999px;">电源或<span class="l"> FLIR </span>独立电池充电器花费的时间要长得多。</div>
<div class="dot" style="left:463.85px;top:567.95px;width:3.3px;height:3.3px;"></div>
<div class="t" style="left:471.4px;top:563.5999999999999px;">将图像从热像仪移动至计算机，以便在<span class="l"> FLIR Tools </span>中进行</div>
<div class="t" style="left:462.59999999999997px;top:580.3px;">进一步分析。</div>
<div class="t b" style="left:462.9px;top:595.9px;">注意：</div>
<div class="t" style="left:462.59999999999997px;top:611.0999999999999px;">移动图像之前在计算机上安装<span class="l"> FLIR Tools</span>。</div>
<div class="t" style="left:506px;top:921.8px;"><span class="n">1.</span></div>
<div class="t" style="left:524.4px;top:921.8px;">主菜单工具栏。</div>
<div class="t" style="left:506px;top:936.3px;"><span class="n">2.</span></div>
<div class="t" style="left:524.4px;top:936.3px;">子菜单工具栏。</div>
<div class="t" style="left:506px;top:950.8px;"><span class="n">3.</span></div>
<div class="t" style="left:524.4px;top:950.8px;">测温点。</div>
<div class="t" style="left:506px;top:965.3px;"><span class="n">4.</span></div>
<div class="t" style="left:524.4px;top:965.3px;">结果表。</div>
<div class="t" style="left:506px;top:979.8px;"><span class="n">5.</span></div>
<div class="t" style="left:524.4px;top:979.8px;">状态图标。</div>
<div class="t" style="left:506px;top:994.3px;"><span class="n">6.</span></div>
<div class="t" style="left:524.4px;top:994.3px;">温标。</div>
<div class="t" style="left:74.5px;top:883.8px;"><span class="n">1.</span></div>
<div class="t" style="left:92.2px;top:883.8px;">热像仪屏幕。</div>
<div class="t" style="left:74.5px;top:907.3px;"><span class="n">2.</span></div>
<div class="t" style="left:92.2px;top:907.3px;">归档按钮</div>
<div class="t" style="left:162.6px;top:907.3px;">。</div>
<div class="t" style="left:92.2px;top:921.3px;">功能：</div>
<div class="dot" style="left:93.30px;top:947.70px;width:3.6px;height:3.6px;"></div>
<div class="t" style="left:108.0px;top:942.9px;">按动可打开图像归档。</div>
<div class="t" style="left:74.5px;top:965.9px;"><span class="n">3.</span></div>
<div class="t" style="left:92.2px;top:965.9px;">导航台。</div>
<div class="t" style="left:92.2px;top:979.9px;">功能：</div>
<div class="dot" style="left:93.30px;top:1005.40px;width:3.6px;height:3.6px;"></div>
<div class="t" style="left:108.0px;top:1001.0999999999999px;">按左右或上下箭头可在菜单、子菜单和对话框中定位。</div>
<div class="dot" style="left:93.30px;top:1020.30px;width:3.6px;height:3.6px;"></div>
<div class="t" style="left:108.0px;top:1016.0px;">按中间键进行确认。</div>
<div class="t" style="left:74.5px;top:1039.8999999999999px;"><span class="n">4.</span></div>
<div class="t" style="left:92.2px;top:1039.8999999999999px;">取消按钮</div>
<div class="t" style="left:162.6px;top:1039.8999999999999px;">。</div>
<div class="t" style="left:92.2px;top:1054.3px;">功能：</div>
<div class="dot" style="left:93.30px;top:1080.30px;width:3.6px;height:3.6px;"></div>
<div class="t" style="left:108.0px;top:1076.0px;">取消选择。</div>
<div class="dot" style="left:93.30px;top:1095.20px;width:3.6px;height:3.6px;"></div>
<div class="t" style="left:108.0px;top:1090.3999999999999px;">返回菜单系统。</div>
<div class="t" style="left:74.5px;top:1114.3999999999999px;"><span class="n">5.</span></div>
<div class="t" style="left:92.2px;top:1114.3999999999999px;">开/关按钮</div>
<div class="t" style="left:92.2px;top:1129.0px;">功能：</div>
<div class="dot" style="left:93.30px;top:1156.40px;width:3.6px;height:3.6px;"></div>
<div class="t" style="left:108.0px;top:1151.8px;">按</div>
<div class="t" style="left:140.8px;top:1151.8px;">按钮可打开热像仪。</div>
<div class="dot" style="left:93.30px;top:1172.60px;width:3.6px;height:3.6px;"></div>
<div class="t" style="left:108.0px;top:1168.2px;">按住</div>
<div class="t" style="left:153.5px;top:1168.2px;">按钮少于<span class="l"> 5 </span>秒，可使热像仪进入待机模式。<span class="l">48 </span>小时后，热像仪自动关闭。</div>
<div class="dot" style="left:93.30px;top:1189.20px;width:3.6px;height:3.6px;"></div>
<div class="t" style="left:108.0px;top:1184.3px;">按住</div>
<div class="t" style="left:153.5px;top:1184.3px;">按钮超过<span class="l"> 10 </span>秒即可关闭热像仪。</div>
</body></html>
